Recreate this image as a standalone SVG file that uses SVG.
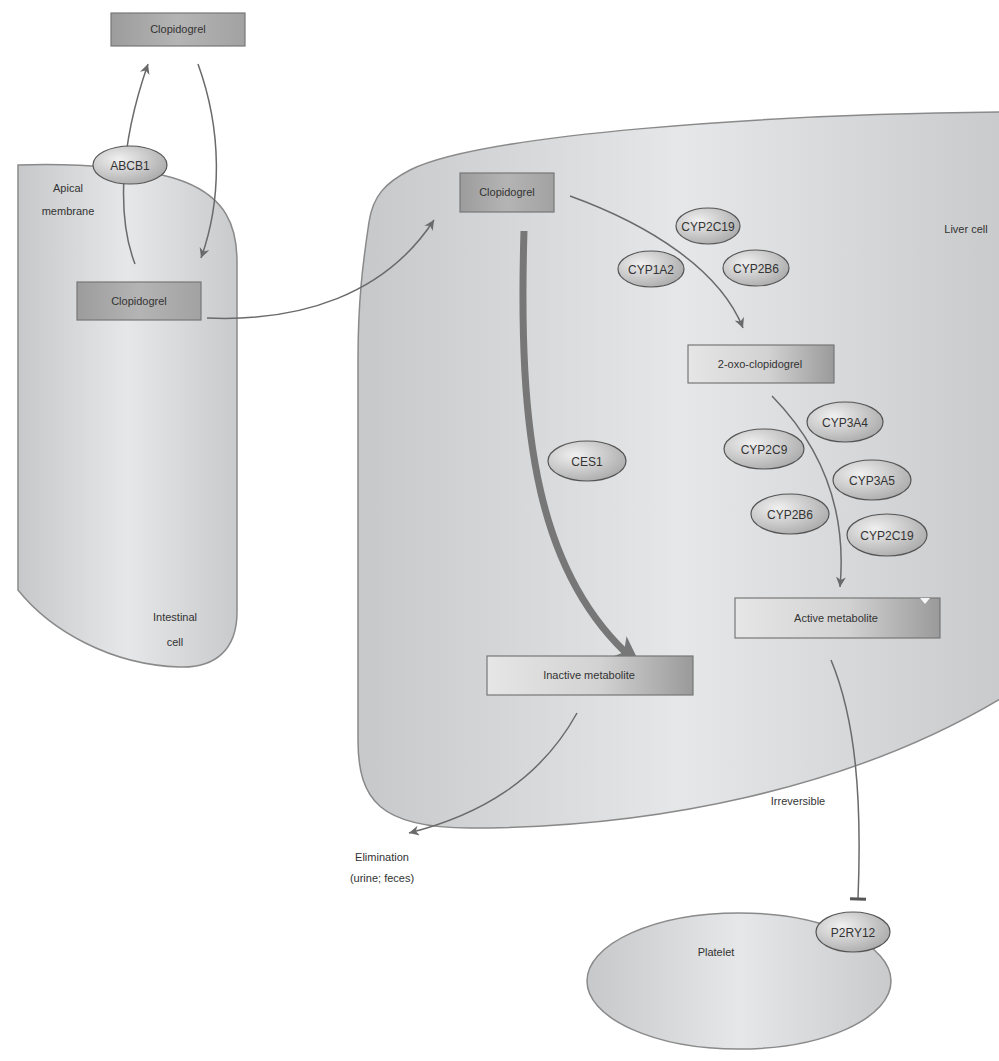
<svg xmlns="http://www.w3.org/2000/svg" width="999" height="1061" viewBox="0 0 999 1061">
<defs>
<linearGradient id="cellG" x1="0" y1="0" x2="1" y2="0">
<stop offset="0" stop-color="#c6c8ca"/><stop offset="0.5" stop-color="#e5e7e8"/><stop offset="1" stop-color="#c8cacc"/>
</linearGradient>
<linearGradient id="darkBox" x1="0" y1="0" x2="1" y2="0">
<stop offset="0" stop-color="#9c9c9c"/><stop offset="0.5" stop-color="#b4b4b4"/><stop offset="1" stop-color="#a2a2a2"/>
</linearGradient>
<linearGradient id="lightBox" x1="0" y1="0" x2="1" y2="0">
<stop offset="0" stop-color="#e6e6e6"/><stop offset="0.55" stop-color="#d2d2d2"/><stop offset="1" stop-color="#9a9a9a"/>
</linearGradient>
<radialGradient id="ellG" cx="0.35" cy="0.35" r="0.75">
<stop offset="0" stop-color="#f0f0f0"/><stop offset="1" stop-color="#a8a8a8"/>
</radialGradient>
<marker id="arr" markerWidth="12" markerHeight="12" refX="10" refY="5" orient="auto" markerUnits="userSpaceOnUse">
<path d="M0,0 L10,5 L0,10 L3,5 Z" fill="#6a6a6a"/>
</marker>
<marker id="arrBig" markerWidth="40" markerHeight="40" refX="30" refY="14" orient="auto" markerUnits="userSpaceOnUse">
<path d="M0,0 L30,14 L0,28 L8,14 Z" fill="#777"/>
</marker>
<marker id="tbar" markerWidth="20" markerHeight="20" refX="2" refY="9" orient="auto" markerUnits="userSpaceOnUse">
<path d="M2,1 L2,17" stroke="#555" stroke-width="3"/>
</marker>
<style>
.cell{fill:url(#cellG);stroke:#8a8a8a;stroke-width:1.5}
.dbox{fill:url(#darkBox);stroke:#777;stroke-width:1.2}
.lbox{fill:url(#lightBox);stroke:#777;stroke-width:1.2}
.ell{fill:url(#ellG);stroke:#555;stroke-width:1.2}
.t{font-family:"Liberation Sans",Arial,sans-serif;font-size:11px;fill:#333;text-anchor:middle}
.te{font-family:"Liberation Sans",Arial,sans-serif;font-size:12px;fill:#333;text-anchor:middle}
.c{fill:none;stroke:#6a6a6a;stroke-width:1.5}
</style>
</defs>
<rect width="999" height="1061" fill="#fff"/>

<g id="intestinal-cell">
<path class="cell" d="M18,165 C80,163 150,168 185,182 C225,198 237,225 237,262 L237,612 C237,650 215,668 180,667 C110,665 50,630 18,590 Z"/>
<text class="t" x="68" y="192">Apical</text>
<text class="t" x="68" y="215">membrane</text>
<text class="t" x="175" y="621">Intestinal</text>
<text class="t" x="175" y="646">cell</text>
</g>

<g id="liver-cell">
<path class="cell" d="M1005,112 C760,114 480,135 410,170 C385,183 373,196 369,222 C363,262 358,300 358,360 L358,740 C358,800 380,828 470,828 C650,828 850,790 1005,696 Z"/>
<text class="t" x="966" y="233">Liver cell</text>
</g>

<g id="platelet">
<ellipse class="cell" cx="739" cy="981" rx="152" ry="68"/>
<text class="t" x="716" y="956">Platelet</text>
</g>

<g id="connectors">
<path class="c" d="M135,264 C118,220 118,150 148,64" marker-end="url(#arr)"/>
<path class="c" d="M198,64 C222,130 222,200 201,258" marker-end="url(#arr)"/>
<path class="c" d="M207,318 C300,322 385,295 434,220" marker-end="url(#arr)"/>
<path class="c" d="M570,196 C650,225 720,270 743,328" marker-end="url(#arr)"/>
<path d="M524,231 C518,430 535,580 641,666" fill="none" stroke="#777" stroke-width="7" marker-end="url(#arrBig)"/>
<path class="c" d="M772,396 C815,440 848,500 840,587" marker-end="url(#arr)"/>
<path class="c" d="M577,713 C540,780 480,815 409,833" marker-end="url(#arr)"/>
<path class="c" d="M831,660 C856,720 862,800 858,899" marker-end="url(#tbar)"/>
<text class="t" x="798" y="805">Irreversible</text>
<text class="t" x="382" y="861">Elimination</text>
<text class="t" x="382" y="882">(urine; feces)</text>
</g>

<g id="clopidogrel-top"><rect class="dbox" x="111" y="13" width="134" height="33"/><text class="t" x="178" y="33">Clopidogrel</text></g>
<g id="abcb1"><ellipse class="ell" cx="130" cy="165" rx="37" ry="19"/><text class="te" x="130" y="170">ABCB1</text></g>
<g id="clopidogrel-intestinal"><rect class="dbox" x="77" y="282" width="124" height="38"/><text class="t" x="139" y="305">Clopidogrel</text></g>
<g id="clopidogrel-liver"><rect class="dbox" x="460" y="173" width="94" height="39"/><text class="t" x="507" y="196">Clopidogrel</text></g>
<g id="cyp2c19-a"><ellipse class="ell" cx="708" cy="226" rx="32" ry="18"/><text class="te" x="708" y="231">CYP2C19</text></g>
<g id="cyp1a2"><ellipse class="ell" cx="651" cy="269" rx="33" ry="18"/><text class="te" x="651" y="274">CYP1A2</text></g>
<g id="cyp2b6-a"><ellipse class="ell" cx="756" cy="268" rx="33" ry="18"/><text class="te" x="756" y="273">CYP2B6</text></g>
<g id="oxo"><rect class="lbox" x="688" y="345" width="146" height="38"/><text class="t" x="760" y="368">2-oxo-clopidogrel</text></g>
<g id="ces1"><ellipse class="ell" cx="587" cy="461" rx="39" ry="20"/><text class="te" x="587" y="466">CES1</text></g>
<g id="cyp3a4"><ellipse class="ell" cx="845" cy="422" rx="38" ry="20"/><text class="te" x="845" y="427">CYP3A4</text></g>
<g id="cyp2c9"><ellipse class="ell" cx="764" cy="449" rx="40" ry="20"/><text class="te" x="764" y="454">CYP2C9</text></g>
<g id="cyp3a5"><ellipse class="ell" cx="872" cy="480" rx="39" ry="20"/><text class="te" x="872" y="485">CYP3A5</text></g>
<g id="cyp2b6-b"><ellipse class="ell" cx="790" cy="514" rx="39" ry="20"/><text class="te" x="790" y="519">CYP2B6</text></g>
<g id="cyp2c19-b"><ellipse class="ell" cx="887" cy="535" rx="40" ry="21"/><text class="te" x="887" y="540">CYP2C19</text></g>
<g id="active"><rect class="lbox" x="735" y="598" width="205" height="40"/><path d="M920,598 L930,598 L925,604 Z" fill="#fff" opacity="0.9"/><text class="t" x="836" y="622">Active metabolite</text></g>
<g id="inactive"><rect class="lbox" x="487" y="656" width="206" height="39"/><text class="t" x="589" y="679">Inactive metabolite</text></g>
<g id="p2ry12"><ellipse class="ell" cx="853" cy="932" rx="37" ry="20"/><text class="te" x="853" y="937">P2RY12</text></g>
</svg>
